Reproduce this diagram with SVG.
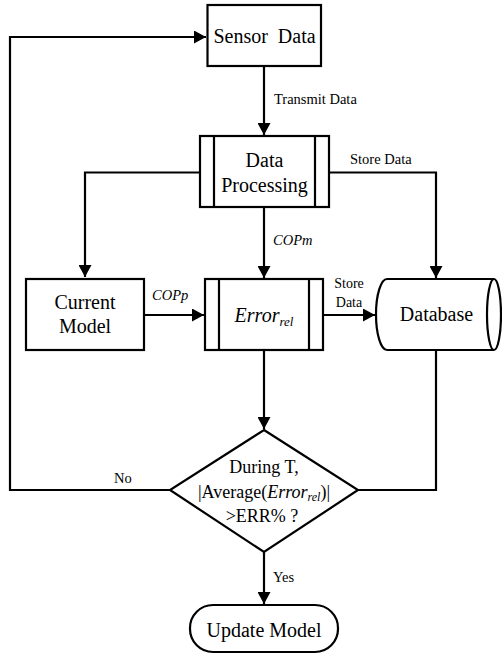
<svg xmlns="http://www.w3.org/2000/svg" width="502" height="657" viewBox="0 0 502 657">
<style>
.s{fill:#fff;stroke:#000;stroke-width:2.2}
.c{fill:none;stroke:#000;stroke-width:2.2}
text{font-family:"Liberation Serif","Times New Roman",serif;fill:#000}
.m{font-size:20px;text-anchor:middle}
.d{font-size:18px;text-anchor:middle}
.l{font-size:14.5px}
.i{font-style:italic}
</style>
<defs>
<marker id="ah" markerUnits="userSpaceOnUse" markerWidth="13" markerHeight="13" viewBox="0 0 13 13" refX="12" refY="6.5" orient="auto">
<path d="M0,0 L12,6.5 L0,13 Z" fill="#000"/>
</marker>
</defs>
<rect width="502" height="657" fill="#fff"/>
<g id="connectors">
<path class="c" d="M264,66 V135" marker-end="url(#ah)"/>
<path class="c" d="M200,172.5 H85 V277" marker-end="url(#ah)"/>
<path class="c" d="M329,172.5 H436 V278" marker-end="url(#ah)"/>
<path class="c" d="M264,207 V278" marker-end="url(#ah)"/>
<path class="c" d="M144,315 H204" marker-end="url(#ah)"/>
<path class="c" d="M323,315 H375" marker-end="url(#ah)"/>
<path class="c" d="M264,350 V429" marker-end="url(#ah)"/>
<path class="c" d="M436,350 V490 H358"/>
<path class="c" d="M170,490 H10 V37 H206" marker-end="url(#ah)"/>
<path class="c" d="M264,552 V604" marker-end="url(#ah)"/>
<text class="l" x="274" y="104">Transmit Data</text>
<text class="l" x="350" y="164">Store Data</text>
<text class="l i" x="273" y="245">COPm</text>
<text class="l i" x="152" y="300">COPp</text>
<text class="l" x="349" y="288" text-anchor="middle" style="font-size:14px">Store</text>
<text class="l" x="349" y="307" text-anchor="middle" style="font-size:14px">Data</text>
<text class="l" x="114" y="483">No</text>
<text class="l" x="273" y="582">Yes</text>
</g>
<g id="sensor">
<rect class="s" x="207.5" y="5" width="113.5" height="61"/>
<text class="m" x="264.5" y="43" xml:space="preserve">Sensor  Data</text>
</g>
<g id="processing">
<rect class="s" x="200" y="136" width="129" height="71"/>
<path class="c" d="M214,136 V207 M315,136 V207"/>
<text class="m" x="264.5" y="167">Data</text>
<text class="m" x="264.5" y="192">Processing</text>
</g>
<g id="model">
<rect class="s" x="26" y="279" width="118" height="71"/>
<text class="m" x="85" y="309">Current</text>
<text class="m" x="85" y="333">Model</text>
</g>
<g id="error">
<rect class="s" x="205" y="279" width="118" height="71"/>
<path class="c" d="M219,279 V350 M309,279 V350"/>
<text class="m" x="264" y="322"><tspan class="i">Error</tspan><tspan class="i" style="font-size:13px" dy="4">rel</tspan></text>
</g>
<g id="database">
<path class="s" d="M387,279 H494 A7 35.5 0 0 1 494,350 H387 A11 35.5 0 0 1 387,279 Z"/>
<path class="c" d="M494,279 A7 35.5 0 0 0 494,350"/>
<text class="m" x="436.5" y="321">Database</text>
</g>
<g id="decision">
<path class="s" d="M264,430 L358,490 L264,552 L170,490 Z"/>
<text class="d" x="264" y="473">During T,</text>
<text class="d" x="264" y="498">|Average(<tspan class="i">Error</tspan><tspan class="i" style="font-size:12px" dy="3">rel</tspan><tspan dy="-3">)|</tspan></text>
<text class="d" x="262" y="522">&gt;ERR% ?</text>
</g>
<g id="update">
<rect class="s" x="190" y="605" width="148" height="47" rx="23" ry="23"/>
<text class="m" x="264" y="637">Update Model</text>
</g>
</svg>
